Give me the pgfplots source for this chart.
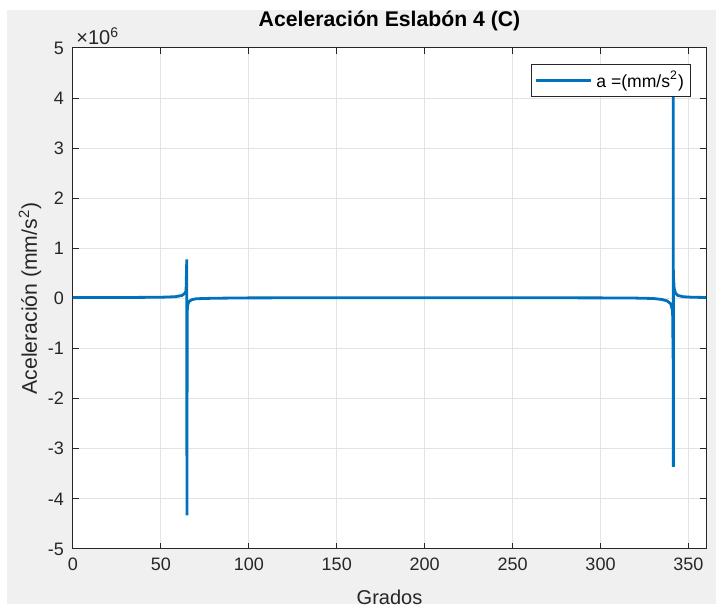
\documentclass[border=0pt]{standalone}
\usepackage{pgfplots}
\pgfplotsset{compat=1.18}
\usepackage{fontspec}
\setmainfont{Liberation Sans}
\definecolor{figbg}{HTML}{F0F0F0}
\definecolor{axcol}{HTML}{262626}
\definecolor{gridcol}{HTML}{E3E3E3}
\definecolor{mblue}{HTML}{0072BD}
\begin{document}
\begin{tikzpicture}
% picture frame: 1 px = 0.5 pt; axis box SW corner at pixel (73,549)
\path[use as bounding box] (-36.5pt,-27.5pt) rectangle (321.5pt,274.5pt);
\fill[white] (-36.5pt,-27.5pt) rectangle (321.5pt,274.5pt);
\fill[figbg] (-33pt,-27.5pt) rectangle (321.5pt,269.5pt);
\begin{axis}[
  name=ax,
  at={(0pt,0pt)}, anchor=south west,
  scale only axis, width=316.5pt, height=250.5pt,
  xmin=0, xmax=360, ymin=-5000000, ymax=5000000,
  xtick={0,50,...,350},
  ytick={-5000000,-4000000,-3000000,-2000000,-1000000,0,1000000,2000000,3000000,4000000,5000000},
  yticklabels={-5,-4,-3,-2,-1,0,1,2,3,4,5},
  scaled y ticks=false,
  /pgf/number format/assume math mode=true,
  axis background/.style={fill=white},
  axis line style={axcol, line width=0.5pt},
  tick style={axcol, line width=0.5pt},
  tick align=inside, major tick length=3pt,
  grid=major, major grid style={gridcol, line width=0.5pt},
  ticklabel style={font=\fontsize{9}{10}\selectfont, text=axcol},
  xticklabel style={yshift=-1pt},
  yticklabel style={xshift=-1pt},
  title={\textbf{Aceleración Eslabón 4 (C)}},
  title style={font=\fontsize{10.6}{12}\selectfont, at={(axis description cs:0.5,1)}, anchor=base, yshift=4.5pt, inner sep=0pt},
  xlabel={Grados},
  xlabel style={font=\fontsize{10}{12}\selectfont, text=axcol, at={(axis description cs:0.5,0)}, anchor=center, yshift=-24pt},
  ylabel={Aceleración (mm/s\textsuperscript{2})},
  ylabel style={font=\fontsize{10.6}{12}\selectfont, text=axcol, at={(axis description cs:0,0.5)}, anchor=center, yshift=21.5pt},
  legend style={at={(axis description cs:0.976,0.968)}, anchor=north east,
    draw=axcol, fill=white, font=\fontsize{8.8}{10}\selectfont, inner sep=1.2pt, line width=0.5pt},
  legend cell align=left,
  legend image code/.code={\draw[#1, line width=1.5pt] (0pt,0pt) -- (27.5pt,0pt);},
]
\addplot[mblue, line width=1.4pt] coordinates {
(0,20000) (30,20000) (50,25000) (58,35000) (62,60000) (63.5,100000) (64.3,150000)
(64.7,780000) (64.8,-4330000) (64.95,-250000) (65.3,-120000) (66,-60000)
(67.5,-25000) (70,-5000) (80,5000) (100,12000) (150,15000) (200,15000)
(250,15000) (300,12000) (320,8000) (330,0) (335,-20000) (338,-50000)
(340,-110000) (341.0,-250000) (341.3,-1200000) (341.4,4600000) (341.45,-3360000)
(341.5,430000) (341.9,200000) (342.6,110000) (344,60000) (347,35000)
(352,25000) (360,20000)
};
\addlegendentry{a =(mm/s\textsuperscript{2})}
\end{axis}
\node[anchor=south west, inner sep=0pt, font=\fontsize{10}{11}\selectfont, text=axcol]
  at ([xshift=1.5pt,yshift=1.2pt]ax.north west) {×10\textsuperscript{6}};
\end{tikzpicture}
\end{document}
